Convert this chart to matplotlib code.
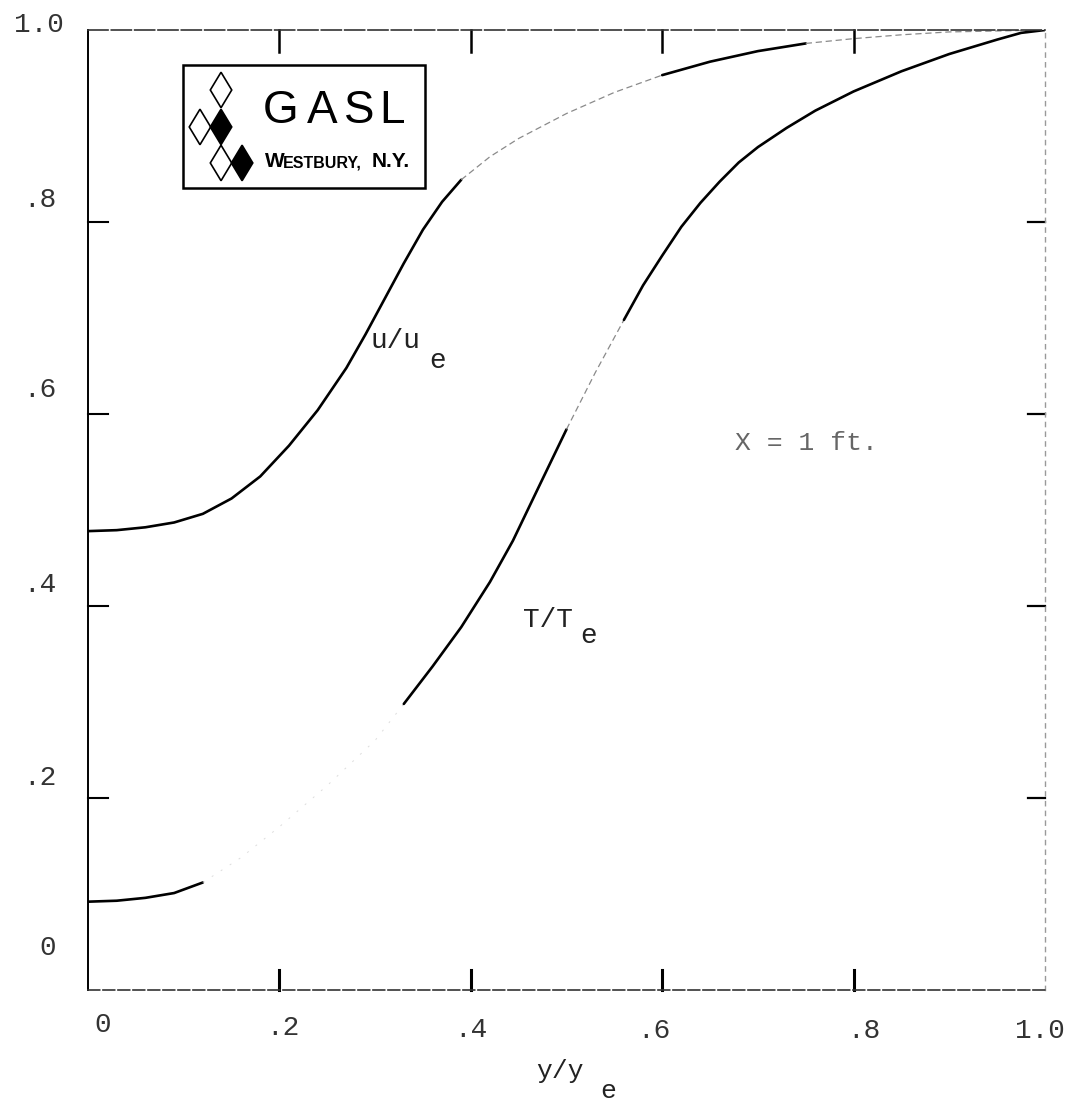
import numpy as np
import matplotlib
matplotlib.use("Agg")
import matplotlib.pyplot as plt
from matplotlib.patches import Polygon, Rectangle
from matplotlib.transforms import ScaledTranslation

# ---- data ----
x_u = [0, 0.03, 0.06, 0.09, 0.12, 0.15, 0.18, 0.21, 0.24, 0.27, 0.29, 0.31,
       0.33, 0.35, 0.37, 0.39, 0.42, 0.45, 0.5, 0.55, 0.6, 0.65, 0.7, 0.75,
       0.8, 0.85, 0.9, 0.95, 1.0]
u_ue = [0.478, 0.479, 0.482, 0.487, 0.496, 0.512, 0.535, 0.567, 0.604, 0.648,
        0.683, 0.72, 0.757, 0.792, 0.821, 0.844, 0.868, 0.887, 0.913, 0.935,
        0.953, 0.967, 0.978, 0.986, 0.991, 0.995, 0.998, 0.999, 1.0]

x_T = [0, 0.03, 0.06, 0.09, 0.12, 0.16, 0.2, 0.25, 0.3, 0.33, 0.36, 0.39, 0.42,
       0.444, 0.47, 0.5, 0.53, 0.56, 0.58, 0.6, 0.62, 0.64, 0.66, 0.68, 0.7,
       0.73, 0.76, 0.8, 0.85, 0.9, 0.95, 0.975, 1.0]
T_Te = [0.092, 0.093, 0.096, 0.101, 0.112, 0.138, 0.17, 0.213, 0.26, 0.298,
        0.337, 0.378, 0.425, 0.468, 0.522, 0.584, 0.643, 0.698, 0.734, 0.765,
        0.795, 0.82, 0.842, 0.862, 0.878, 0.898, 0.916, 0.936, 0.957, 0.975,
        0.99, 0.997, 1.0]

x_ticks = [0, 0.2, 0.4, 0.6, 0.8, 1.0]
x_ticklabels = ["0", ".2", ".4", ".6", ".8", "1.0"]
y_ticks = [0, 0.2, 0.4, 0.6, 0.8, 1.0]
y_ticklabels = ["0", ".2", ".4", ".6", ".8", "1.0"]

# segments: (start, end, style)  style: 's' solid, 'f' faint, 'v' very faint
u_segments = [(0, 0.39, "s"), (0.39, 0.6, "f"), (0.6, 0.75, "s"), (0.75, 1.0, "f")]
T_segments = [(0, 0.12, "s"), (0.12, 0.33, "v"), (0.33, 0.5, "s"),
              (0.5, 0.56, "f"), (0.56, 1.0, "s")]

MONO = ["Liberation Mono", "DejaVu Sans Mono"]
NARROW = ["Liberation Sans Narrow", "Liberation Sans", "DejaVu Sans"]
INK = "#222222"

fig = plt.figure(figsize=(10.77, 11.01), dpi=100)
ax = fig.add_axes([88 / 1077, 111 / 1101, 957 / 1077, 960 / 1101])
ax.set_xlim(0, 1)
ax.set_ylim(0, 1)


def draw(xs, ys, segs):
    xs = np.asarray(xs)
    ys = np.asarray(ys)
    for a, b, style in segs:
        m = (xs >= a - 1e-9) & (xs <= b + 1e-9)
        if style == "s":
            ax.plot(xs[m], ys[m], color="black", lw=1.9, solid_capstyle="round")
        elif style == "f":
            ax.plot(xs[m], ys[m], color="#8a8a8a", lw=0.9, ls=(0, (5, 3)))
        else:
            ax.plot(xs[m], ys[m], color="#dddddd", lw=0.7, ls=(0, (2, 9)))


draw(x_u, u_ue, u_segments)
draw(x_T, T_Te, T_segments)

# spines
ax.spines["left"].set_linewidth(1.4)
ax.spines["left"].set_color("black")
ax.spines["bottom"].set_linewidth(1.2)
ax.spines["bottom"].set_color("#333333")
ax.spines["bottom"].set_linestyle((0, (7, 2)))
ax.spines["top"].set_linewidth(1.2)
ax.spines["top"].set_color("#333333")
ax.spines["top"].set_linestyle((0, (12, 2)))
ax.spines["right"].set_linewidth(1.0)
ax.spines["right"].set_color("#999999")
ax.spines["right"].set_linestyle((0, (3, 4)))

# ticks
ax.set_xticks(x_ticks)
ax.set_xticklabels(x_ticklabels)
ax.set_yticks(y_ticks)
ax.set_yticklabels(y_ticklabels)
ax.tick_params(axis="x", which="major", direction="in", length=0, pad=20,
               labelsize=20, labelcolor="#333333")
ax.tick_params(axis="y", which="major", direction="in", length=0, pad=23,
               labelsize=20, labelcolor="#333333")
for lab in ax.get_xticklabels() + ax.get_yticklabels():
    lab.set_fontfamily(MONO)

# label offsets (typed labels sit off their ticks)
y_offsets_px = [(0, 45), (0, 23), (0, 24), (0, 27), (0, 25), (8, 8)]
for lab, (dx, dy) in zip(ax.get_yticklabels(), y_offsets_px):
    lab.set_transform(lab.get_transform() +
                      ScaledTranslation(dx / 100, dy / 100, fig.dpi_scale_trans))
x_offsets_px = [(15, 6), (3, 3), (0, 1), (-8, 0), (10, 0), (-5, 0)]
for lab, (dx, dy) in zip(ax.get_xticklabels(), x_offsets_px):
    lab.set_transform(lab.get_transform() +
                      ScaledTranslation(dx / 100, dy / 100, fig.dpi_scale_trans))

# hand-drawn tick marks on the frame
inner = [0.2, 0.4, 0.6, 0.8]
for v in inner:
    ax.plot([v, v], [0, 0.021], color="black", lw=2.2, clip_on=False)
    ax.plot([v, v], [1, 0.977], color="black", lw=1.8, clip_on=False)
    ax.plot([0, 0.021], [v, v], color="black", lw=1.5, clip_on=False)
    ax.plot([1, 0.982], [v, v], color="black", lw=1.6, clip_on=False)

# curve labels
ax.text(0.2947, 0.669, "u/u", fontfamily=MONO, fontsize=20, color=INK)
ax.text(0.357, 0.648, "e", fontfamily=MONO, fontsize=20, color=INK)
ax.text(0.4545, 0.378, "T/T", fontfamily=MONO, fontsize=20, color=INK)
ax.text(0.514, 0.3615, "e", fontfamily=MONO, fontsize=20, color=INK)
ax.text(0.676, 0.5625, "X = 1 ft.", fontfamily=MONO, fontsize=19, color="#666666")

# x axis label
ax.text(0.493, -0.0917, "y/y", fontfamily=MONO, fontsize=19, color=INK,
        ha="center", clip_on=False)
ax.text(0.535, -0.1125, "e", fontfamily=MONO, fontsize=19, color=INK,
        clip_on=False)

# ---- GASL logo ----
tr = ax.transAxes
ax.add_patch(Rectangle((0.099, 0.835), 0.253, 0.1285, fill=False, lw=1.8,
                       edgecolor="black", transform=tr, zorder=5))
hw, hh = 0.0112, 0.0185
diamonds = [(0.139, 0.9375, False), (0.117, 0.899, False), (0.139, 0.899, True),
            (0.139, 0.8615, False), (0.161, 0.8615, True)]
for cx, cy, filled in diamonds:
    pts = [(cx, cy + hh), (cx + hw, cy), (cx, cy - hh), (cx - hw, cy)]
    ax.add_patch(Polygon(pts, closed=True, facecolor="black" if filled else "white",
                         edgecolor="black", lw=1.2, transform=tr, zorder=6))
for ch, cx in zip("GASL", [281, 322, 359, 392]):
    ax.text((cx - 88) / 957, (990 - 123) / 960, ch, transform=tr, ha="center",
            va="baseline", fontfamily=NARROW, fontsize=33, color="black", zorder=7)
base = (990 - 167) / 960
ax.text((265 - 88) / 957, base, "W", transform=tr, ha="left", va="baseline",
        fontfamily=NARROW, fontweight="bold", fontsize=15, color="black", zorder=7)
ax.text((283 - 88) / 957, base, "ESTBURY,", transform=tr, ha="left", va="baseline",
        fontfamily=NARROW, fontweight="bold", fontsize=11.5, color="black", zorder=7)
ax.text((372 - 88) / 957, base, "N.Y.", transform=tr, ha="left", va="baseline",
        fontfamily=NARROW, fontweight="bold", fontsize=15, color="black", zorder=7)

fig.savefig("out.png", dpi=100)
